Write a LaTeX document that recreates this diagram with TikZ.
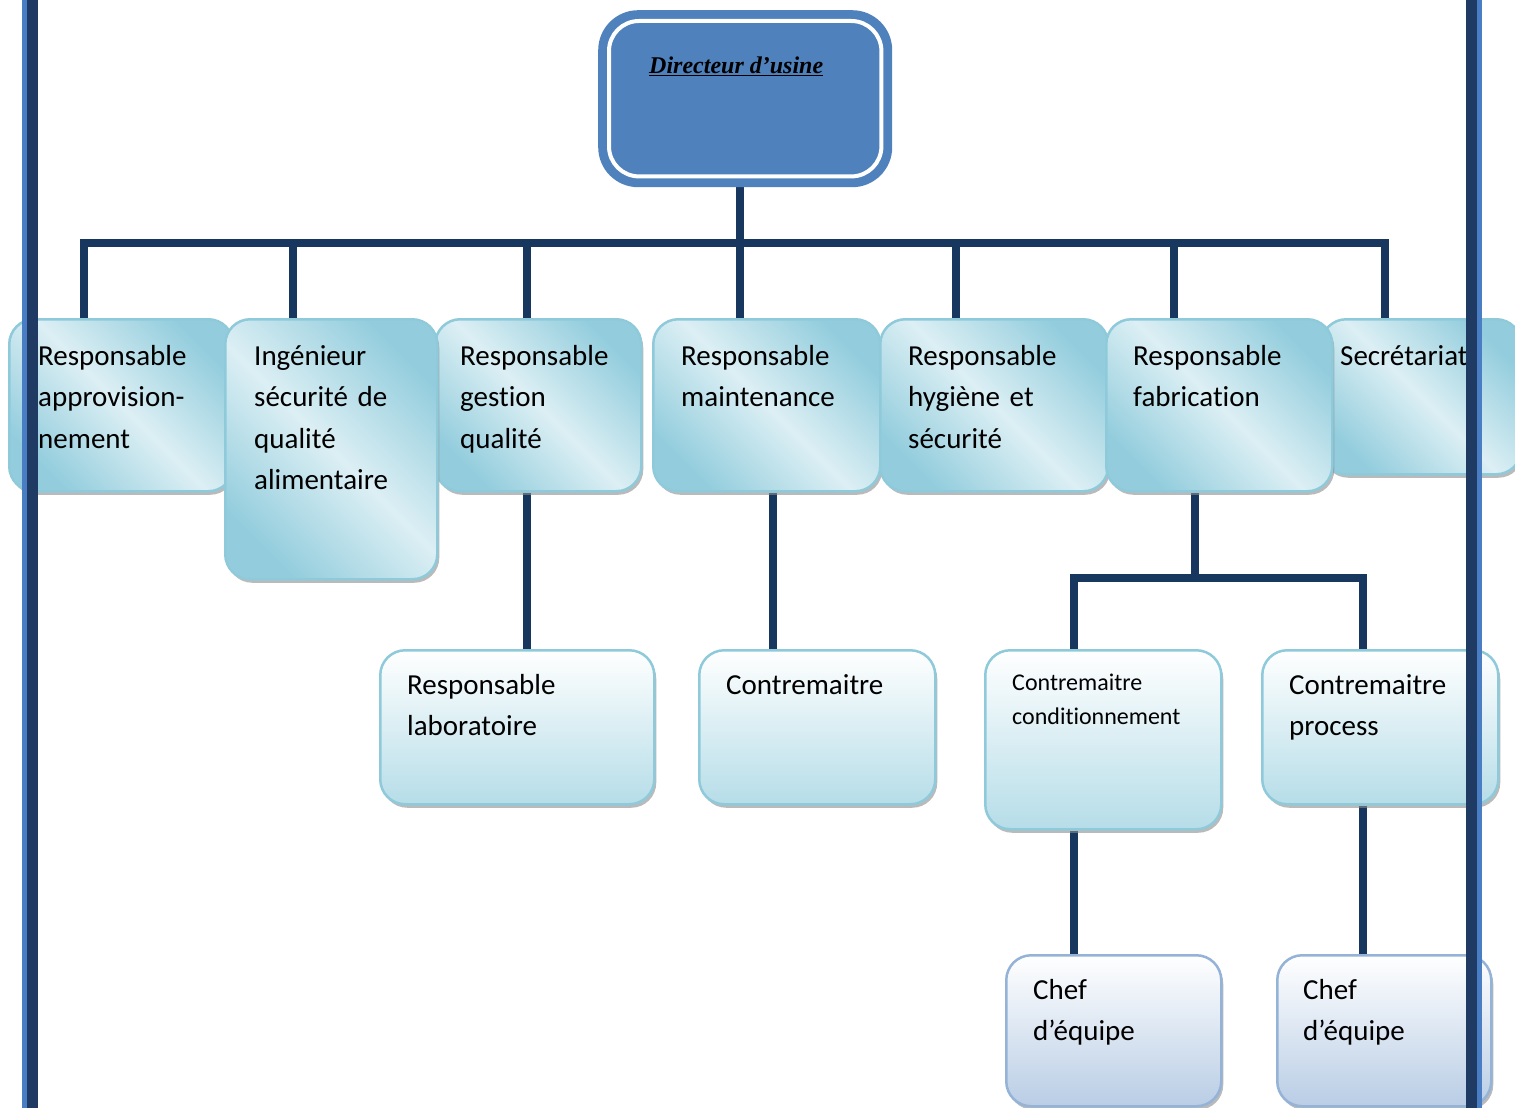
\documentclass[tikz,border=0pt]{standalone}
\usepackage{fontspec}
\setmainfont{Carlito}[Ligatures=NoCommon]
\newfontfamily\dirfont{Liberation Serif}
\usetikzlibrary{shadows,backgrounds}
\definecolor{linkblue}{HTML}{17375E}
\definecolor{bardark}{HTML}{1F3A63}
\definecolor{barlight}{HTML}{4A7EC4}
\definecolor{dirblue}{HTML}{4F81BD}
\definecolor{rowline}{HTML}{8FCADB}
\definecolor{rowdark}{HTML}{93CDDD}
\definecolor{rowlight}{HTML}{DCEFF4}
\definecolor{midblue}{HTML}{B6DDE8}
\definecolor{lowline}{HTML}{95B3D7}
\definecolor{lowblue}{HTML}{B9CDE5}
\tikzset{
  box/.style={draw=rowline, line width=2.5pt, rounded corners=25pt, anchor=north west, inner sep=0pt,
    drop shadow={shadow xshift=2pt, shadow yshift=-3.5pt, fill=black!45, opacity=0.6}},
  topbox/.style={box, top color=rowdark, bottom color=rowdark, middle color=rowlight, shading angle=-45},
  midbox/.style={box, top color=white, bottom color=midblue},
  lowbox/.style={box, draw=lowline, top color=white, bottom color=lowblue},
  dirbox/.style={fill=dirblue, rounded corners=40pt, anchor=north west, inner sep=0pt},
  link/.style={draw=linkblue, line width=7.5pt},
  txt/.style={anchor=base west, inner sep=0pt, align=left, text width=300pt, font=\fontsize{29}{41.5}\selectfont},
  smalltxt/.style={txt, font=\fontsize{24}{34}\selectfont}
}
\begin{document}
\begin{tikzpicture}[x=1pt, y=-1pt]
\useasboundingbox (0,0) rectangle (1515,1108);

\node[dirbox, minimum width=294pt, minimum height=177pt] (dir) at (598,10) {};
\draw[white, line width=4pt, rounded corners=30pt] ([shift={(11,11)}]dir.north west) rectangle ([shift={(-11,-11)}]dir.south east);
\node[anchor=base west, inner sep=0pt] (dir-t) at (649,74) {\dirfont\fontsize{24}{28}\selectfont\bfseries\itshape\underline{Directeur d’usine}};

\node[topbox, minimum width=224pt, minimum height=172pt] (appro) at (8,318) {};
\node[txt] (appro-t) at (38,365) {Responsable\\approvision-\\nement};
\node[topbox, minimum width=206pt, minimum height=172pt] (gest) at (434,318) {};
\node[txt] (gest-t) at (460,365) {Responsable\\gestion\\qualité};
\node[topbox, minimum width=212pt, minimum height=260pt] (ing) at (224,318) {};
\node[txt] (ing-t) at (254,365) {Ingénieur\\sécurité de\\qualité\\alimentaire};
\node[topbox, minimum width=227pt, minimum height=172pt] (maint) at (652,318) {};
\node[txt] (maint-t) at (681,365) {Responsable\\maintenance};
\node[topbox, minimum width=228pt, minimum height=172pt] (hyg) at (879,318) {};
\node[txt] (hyg-t) at (908,365) {Responsable\\hygiène et\\sécurité};
\node[topbox, minimum width=200pt, minimum height=155pt] (secr) at (1320,318) {};
\node[txt] (secr-t) at (1340,365) {Secrétariat};
\node[topbox, minimum width=226pt, minimum height=172pt] (fab) at (1105,318) {};
\node[txt] (fab-t) at (1133,365) {Responsable\\fabrication};

\node[midbox, minimum width=274pt, minimum height=154pt] (lab) at (379,649) {};
\node[txt] (lab-t) at (407,694) {Responsable\\laboratoire};
\node[midbox, minimum width=236pt, minimum height=154pt] (ctr) at (698,649) {};
\node[txt] (ctr-t) at (726,694) {Contremaitre};
\node[midbox, minimum width=236pt, minimum height=179pt] (cond) at (984,649) {};
\node[smalltxt] (cond-t) at (1012,690) {Contremaitre\\conditionnement};
\node[midbox, minimum width=236pt, minimum height=154pt] (proc) at (1261,649) {};
\node[txt] (proc-t) at (1289,694) {Contremaitre\\process};

\node[lowbox, minimum width=215pt, minimum height=151pt] (chef1) at (1005,954) {};
\node[txt] (chef1-t) at (1033,999) {Chef\\d’équipe};
\node[lowbox, minimum width=214pt, minimum height=151pt] (chef2) at (1276,954) {};
\node[txt] (chef2-t) at (1303,999) {Chef\\d’équipe};

\begin{pgfonlayer}{background}
\fill[white] (0,0) rectangle (1515,1108);
\coordinate (b1) at (84,243);
\coordinate (b2) at (293,243);
\coordinate (b3) at (527,243);
\coordinate (b4) at (740,243);
\coordinate (b5) at (956,243);
\coordinate (b6) at (1174,243);
\coordinate (b7) at (1385,243);
\coordinate (mx) at (773,600);
\coordinate (f0) at (1195,578);
\coordinate (f1) at (1074,578);
\coordinate (f2) at (1363,578);
\draw[link] (b4 |- dir.south) -- (b4);
\draw[link] (b1 |- appro.north) -- (b1) -- (b7) -- (b7 |- secr.north);
\draw[link] (b2) -- (b2 |- ing.north);
\draw[link] (b3) -- (b3 |- gest.north);
\draw[link] (b4) -- (b4 |- maint.north);
\draw[link] (b5) -- (b5 |- hyg.north);
\draw[link] (b6) -- (b6 |- fab.north);
\draw[link] (gest.south -| b3) -- (b3 |- lab.north);
\draw[link] (maint.south -| mx) -- (ctr.north -| mx);
\draw[link] (fab.south -| f0) -- (f0);
\draw[link] (f1 |- cond.north) -- (f1) -- (f2) -- (f2 |- proc.north);
\draw[link] (cond.south -| f1) -- (f1 |- chef1.north);
\draw[link] (proc.south -| f2) -- (f2 |- chef2.north);
\end{pgfonlayer}

\fill[barlight] (22,0) rectangle (27,1108);
\fill[bardark] (27,0) rectangle (38,1108);
\fill[bardark] (1466,0) rectangle (1477,1108);
\fill[barlight] (1477,0) rectangle (1482,1108);
\end{tikzpicture}
\end{document}
